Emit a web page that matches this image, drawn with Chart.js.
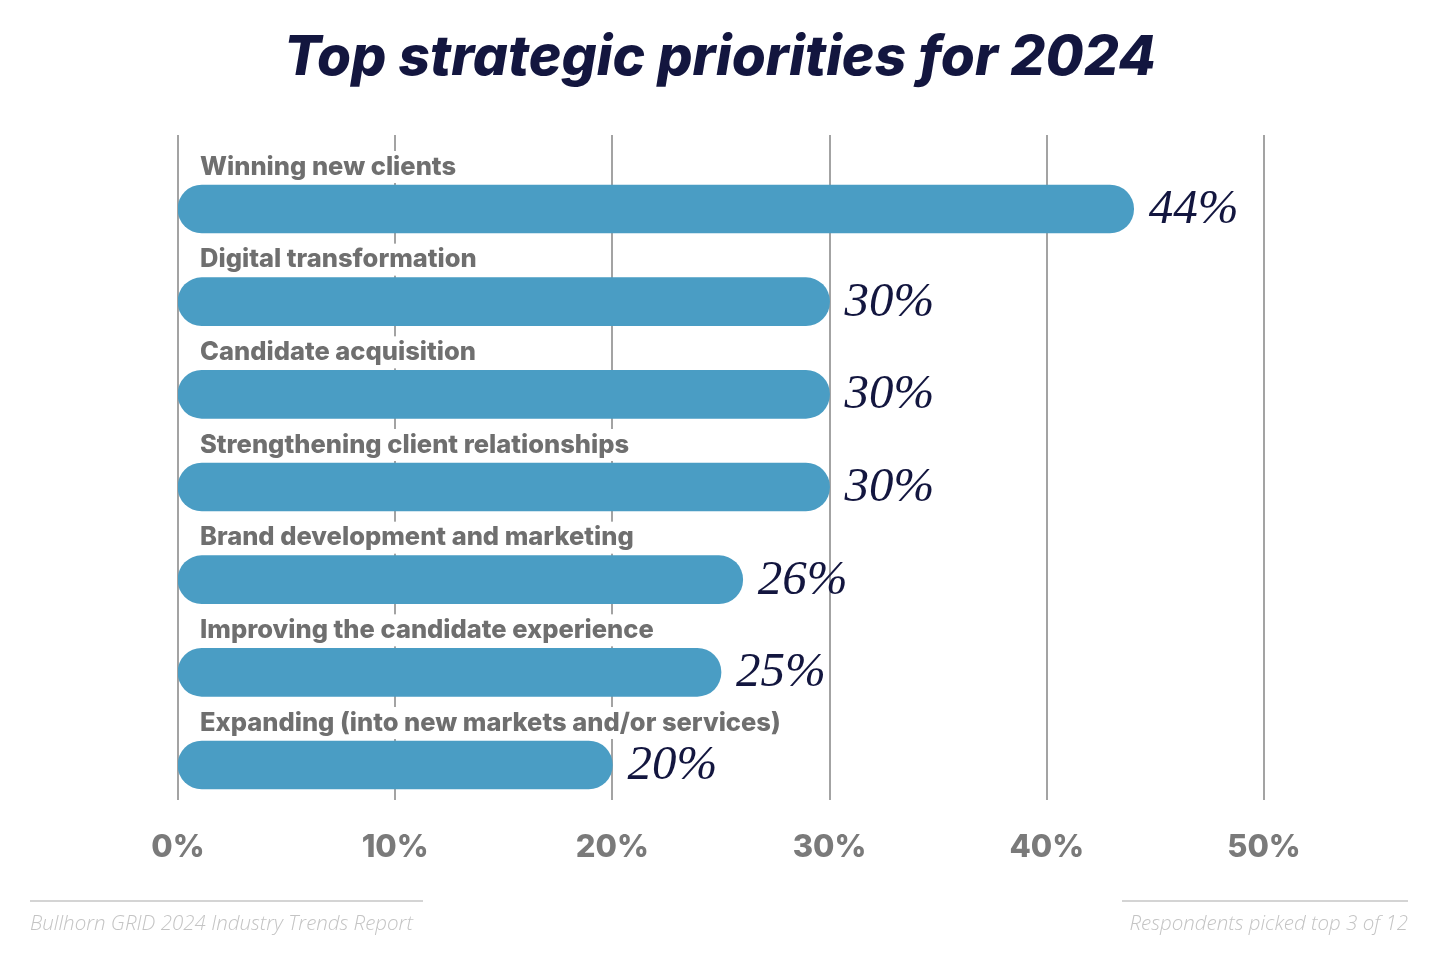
<!DOCTYPE html>
<html lang="en">
<head>
<meta charset="UTF-8">
<title>Top strategic priorities for 2024</title>
<script src="https://cdn.jsdelivr.net/npm/chart.js"></script>
<style>
    body { margin: 0; background: #fff; }
    .page { position: relative; width: 1440px; height: 956px; overflow: hidden; }
    .title {
        position: absolute; top: 22px; left: 0; width: 1440px; text-align: center;
        font-family: Inter, sans-serif; font-weight: 800; font-style: italic;
        font-size: 55px; letter-spacing: 0.1px; color: #13163f; margin: 0;
    }
    .chart-box { position: absolute; left: 0; top: 0; width: 1440px; height: 956px; }
    .rule { position: absolute; top: 900px; height: 2px; background: #d4d4d4; }
    .note {
        position: absolute; top: 908px; font-family: "Open Sans", sans-serif;
        font-style: italic; font-weight: 300; font-size: 20.5px; color: #c4c4c4;
    }
</style>
</head>
<body>
<div class="page">
    <div class="chart-box"><canvas id="chart"></canvas></div>
    <h1 class="title">Top strategic priorities for 2024</h1>
    <div class="rule" style="left:30px; width:393px;"></div>
    <div class="rule" style="left:1122px; width:286px;"></div>
    <div class="note" style="left:30px;">Bullhorn GRID 2024 Industry Trends Report</div>
    <div class="note" style="right:32px;">Respondents picked top 3 of 12</div>
</div>

<script>
// data
const categories = [
    'Winning new clients',
    'Digital transformation',
    'Candidate acquisition',
    'Strengthening client relationships',
    'Brand development and marketing',
    'Improving the candidate experience',
    'Expanding (into new markets and/or services)'
];
const shares = [44, 30, 30, 30, 26, 25, 20];
const tickValues = [0, 10, 20, 30, 40, 50];

const barBlue = '#4a9dc4';
const navy = '#13163f';

// grid lines run a bit above/below the bars, and category labels sit above each bar
const gridAndLabels = {
    id: 'gridAndLabels',
    beforeDatasetsDraw(chart) {
        const ctx = chart.ctx;
        const x = chart.scales.x;
        ctx.save();
        ctx.strokeStyle = '#a3a3a3';
        ctx.lineWidth = 2;
        tickValues.forEach(v => {
            const px = Math.round(x.getPixelForValue(v));
            ctx.beginPath();
            ctx.moveTo(px, 135);
            ctx.lineTo(px, 800);
            ctx.stroke();
        });

        // category names with a white patch behind them
        ctx.font = '800 25.5px Inter, sans-serif';
        ctx.textBaseline = 'middle';
        const meta = chart.getDatasetMeta(0);
        meta.data.forEach((bar, i) => {
            const y = bar.y - 42;
            const w = ctx.measureText(categories[i]).width;
            ctx.fillStyle = '#fff';
            ctx.fillRect(196, y - 16, w + 8, 32);
            ctx.fillStyle = '#6f6f6f';
            ctx.fillText(categories[i], 200, y);
        });
        ctx.restore();
    },
    afterDatasetsDraw(chart) {
        const ctx = chart.ctx;
        const meta = chart.getDatasetMeta(0);
        ctx.save();
        ctx.font = 'italic 49px "Liberation Serif", serif';
        ctx.fillStyle = navy;
        ctx.textBaseline = 'middle';
        meta.data.forEach((bar, i) => {
            ctx.fillText(shares[i] + '%', bar.x + 15, bar.y + 1);
        });
        ctx.restore();
    }
};

new Chart(document.getElementById('chart'), {
    type: 'bar',
    data: {
        labels: categories,
        datasets: [{
            data: shares,
            backgroundColor: barBlue,
            barThickness: 48,
            borderRadius: 24,
            borderSkipped: false
        }]
    },
    options: {
        indexAxis: 'y',
        responsive: true,
        maintainAspectRatio: false,
        animation: false,
        layout: { padding: { left: 178, right: 176, top: 162.65, bottom: 64.65 } },
        plugins: { legend: { display: false }, tooltip: { enabled: false } },
        scales: {
            x: {
                min: 0,
                max: 50,
                grid: { display: false },
                border: { display: false },
                afterFit: s => { s.height = 80; },
                ticks: {
                    stepSize: 10,
                    padding: 10,
                    color: '#7a7a7a',
                    font: { family: 'Inter', size: 31, weight: '800' },
                    callback: v => v + '%'
                }
            },
            y: { display: false }
        }
    },
    plugins: [gridAndLabels]
});
</script>
</body>
</html>
